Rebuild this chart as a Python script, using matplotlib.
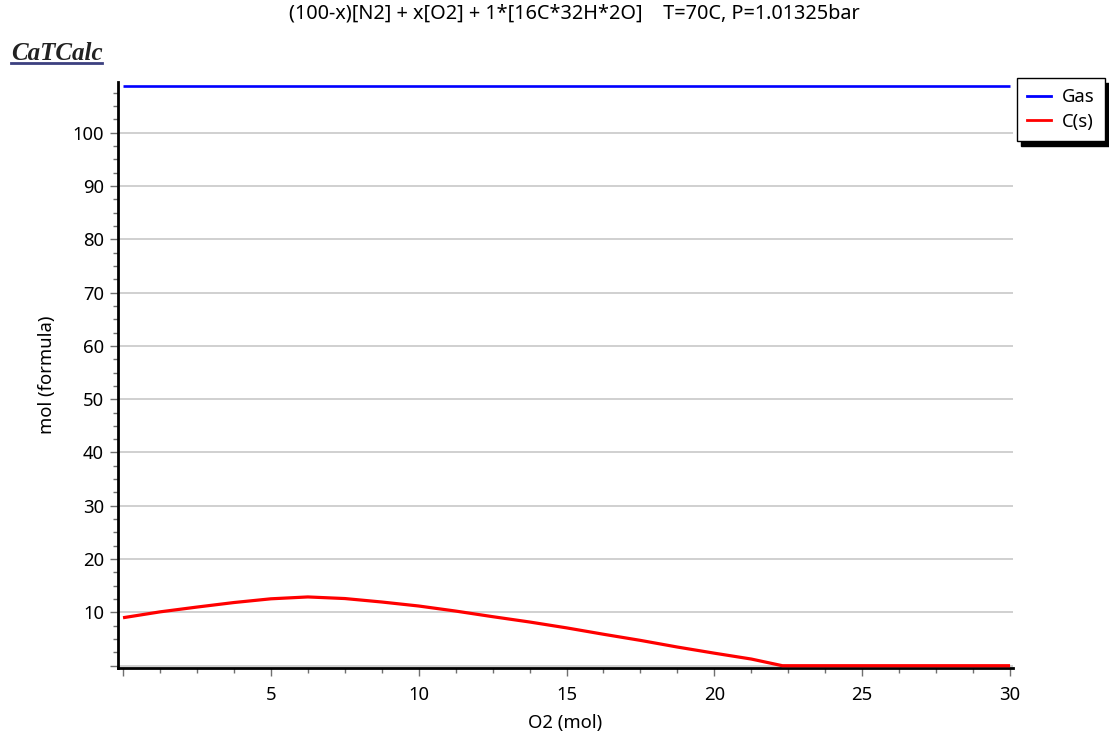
import matplotlib
matplotlib.use("Agg")
import matplotlib.pyplot as plt
from matplotlib.ticker import MultipleLocator, FixedLocator, FuncFormatter
from matplotlib.lines import Line2D

# O2 amount added (mol)
o2 = [0, 1.25, 2.5, 3.75, 5, 6.25, 7.5, 8.75, 10, 11.25, 12.5, 13.75,
      15, 16.25, 17.5, 18.75, 20, 21.25, 22.3, 25, 30]
# moles of solid carbon
carbon = [9.0, 10.1, 11.0, 11.85, 12.55, 12.9, 12.6, 11.95, 11.2, 10.25, 9.2, 8.2,
          7.1, 5.9, 4.75, 3.5, 2.35, 1.25, 0.0, 0.0, 0.0]
# total gas phase (mol)
gas_x = [0, 30]
gas = [108.8, 108.8]

series_names = ["Gas", "C(s)"]
title = "(100-x)[N2] + x[O2] + 1*[16C*32H*2O]    T=70C, P=1.01325bar"
xlabel = "O2 (mol)"
ylabel = "mol (formula)"
x_major = [0, 5, 10, 15, 20, 25, 30]
y_major = [0, 10, 20, 30, 40, 50, 60, 70, 80, 90, 100]

plt.rcParams["font.family"] = ["Noto Sans", "DejaVu Sans"]
W, H = 1109, 738
fig = plt.figure(figsize=(W / 100, H / 100), dpi=100)
ax = fig.add_axes([118 / W, 1 - 668 / H, (1013 - 118) / W, (668 - 82) / H])

ax.plot(gas_x, gas, color="#0000ff", lw=1.9, solid_capstyle="butt", zorder=3)
ax.plot(o2, carbon, color="#ff0000", lw=2.3, solid_capstyle="butt", zorder=3)

ax.set_xlim(-0.17, 30.1)
ax.set_ylim(-0.43, 109.5)

ax.xaxis.set_major_locator(FixedLocator(x_major))
ax.xaxis.set_minor_locator(MultipleLocator(1.25))
ax.yaxis.set_major_locator(FixedLocator(y_major))
ax.yaxis.set_minor_locator(MultipleLocator(2.5))
ax.xaxis.set_major_formatter(FuncFormatter(lambda v, p: "" if v == 0 else f"{v:g}"))
ax.yaxis.set_major_formatter(FuncFormatter(lambda v, p: "" if v == 0 else f"{v:g}"))

ax.tick_params(which="major", direction="out", length=6, width=1.0,
               color="#707070", labelsize=13.3, pad=4)
ax.tick_params(which="minor", direction="out", length=3.5, width=1.0, color="#707070")
ax.tick_params(axis="x", which="major", pad=7)

ax.grid(axis="y", which="major", color="#c8c8c8", lw=1.2)
ax.set_axisbelow(True)

for s in ("top", "right"):
    ax.spines[s].set_visible(False)
for s in ("left", "bottom"):
    ax.spines[s].set_linewidth(2.0)
    ax.spines[s].set_color("black")

ax.set_xlabel(xlabel, fontsize=13.3, labelpad=7.5)
ax.set_ylabel(ylabel, fontsize=13.3, labelpad=12)

fig.text(574 / W, 1 - 14 / H, title, ha="center", va="center", fontsize=14.3)

# brand mark with underline
fig.text(11 / W, 1 - 60 / H, "CaTCalc", family="Liberation Serif", style="italic",
         weight="bold", fontsize=18, color="#222222", ha="left", va="baseline")
fig.add_artist(Line2D([11 / W, 102 / W], [1 - 63 / H, 1 - 63 / H],
                      color="#3c4080", lw=2.0, transform=fig.transFigure))

handles = [Line2D([], [], color="#0000ff", lw=2.0),
           Line2D([], [], color="#ff0000", lw=2.0)]
leg = ax.legend(handles, series_names, loc="upper left",
                bbox_to_anchor=(1017 / W, 1 - 78 / H), bbox_transform=fig.transFigure,
                fancybox=False, shadow={"color": "black", "alpha": 1, "ox": 3.2, "oy": -3.6},
                frameon=True, framealpha=1, edgecolor="black", fontsize=13.3,
                handlelength=1.3, handletextpad=0.6, borderpad=0.55,
                labelspacing=0.35, borderaxespad=0)
leg.get_frame().set_linewidth(1.0)

fig.savefig("out.png", dpi=100)
